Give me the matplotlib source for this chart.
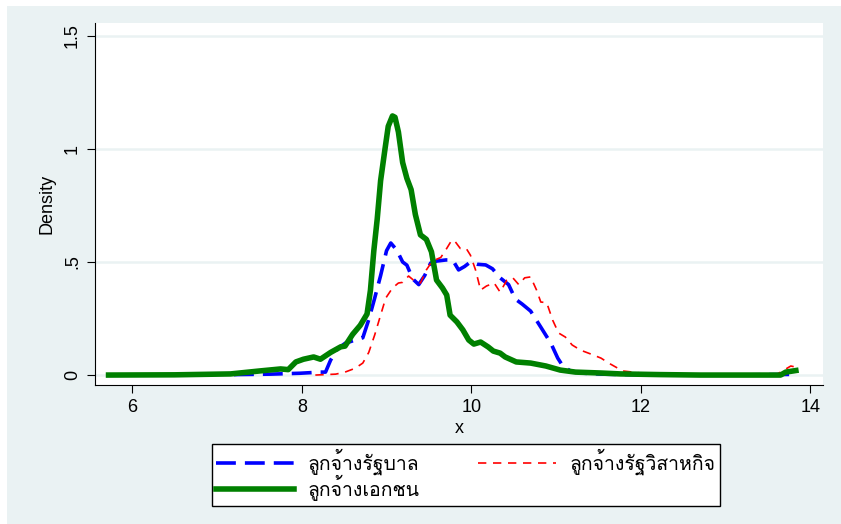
import matplotlib
matplotlib.use("Agg")
import matplotlib.pyplot as plt
from matplotlib import font_manager
from matplotlib.ft2font import FT2Font
from matplotlib.patches import Rectangle

# find an installed font with Thai glyphs
thai_font = None
for f in font_manager.fontManager.ttflist:
    try:
        if FT2Font(f.fname).get_char_index(0x0E01):
            thai_font = f.name
            break
    except Exception:
        pass
families = [thai_font, "DejaVu Sans"] if thai_font else ["DejaVu Sans"]
plt.rcParams["font.family"] = ["Liberation Sans", "DejaVu Sans"]

# series labels
labels = ["ลูกจ้างรัฐบาล", "ลูกจ้างรัฐวิสาหกิจ", "ลูกจ้างเอกชน"]

# ลูกจ้างเอกชน (private employees)
x_private = [5.72, 6.5, 7.16, 7.5, 7.75, 7.84, 7.93, 8.02, 8.14, 8.22, 8.34, 8.46, 8.51,
             8.6, 8.69, 8.77, 8.81, 8.85, 8.89, 8.93, 8.98, 9.02, 9.07, 9.1, 9.14,
             9.19, 9.24, 9.29, 9.34, 9.4, 9.47, 9.53, 9.59, 9.66, 9.71, 9.75, 9.83,
             9.9, 9.97, 10.03, 10.11, 10.2, 10.26, 10.34, 10.4, 10.53, 10.7, 10.88,
             11.05, 11.23, 11.53, 11.76, 12.23, 12.7, 13.65, 13.71, 13.83]
y_private = [0.0, 0.001, 0.005, 0.018, 0.027, 0.024, 0.058, 0.07, 0.08, 0.07, 0.10, 0.125, 0.128,
             0.18, 0.22, 0.27, 0.375, 0.55, 0.69, 0.86, 0.995, 1.10, 1.146, 1.14, 1.075,
             0.94, 0.87, 0.82, 0.71, 0.62, 0.60, 0.545, 0.42, 0.385, 0.354, 0.265, 0.235,
             0.2, 0.155, 0.137, 0.146, 0.124, 0.106, 0.097, 0.08, 0.058, 0.053, 0.04,
             0.022, 0.013, 0.009, 0.005, 0.002, 0.0, 0.0, 0.013, 0.02]

# ลูกจ้างรัฐบาล (government employees)
x_gov = [7.2, 7.63, 7.98, 8.22, 8.28, 8.34, 8.42, 8.51, 8.63, 8.72, 8.79, 8.86, 8.93,
         9.0, 9.05, 9.12, 9.19, 9.24, 9.31, 9.38, 9.45, 9.52, 9.59, 9.7, 9.78, 9.85,
         9.92, 9.99, 10.07, 10.17, 10.25, 10.34, 10.44, 10.52, 10.6, 10.7, 10.82,
         10.94, 11.02, 11.08, 11.17, 11.29, 11.53, 12.0, 13.0, 13.8]
y_gov = [0.002, 0.004, 0.008, 0.013, 0.013, 0.066, 0.115, 0.14, 0.155, 0.165, 0.245, 0.34, 0.44,
         0.55, 0.584, 0.553, 0.5, 0.486, 0.425, 0.40, 0.44, 0.495, 0.504, 0.509, 0.509, 0.465,
         0.48, 0.5, 0.49, 0.487, 0.47, 0.43, 0.40, 0.336, 0.314, 0.283, 0.212,
         0.14, 0.075, 0.04, 0.018, 0.009, 0.004, 0.001, 0.0, 0.003]

# ลูกจ้างรัฐวิสาหกิจ (state enterprise employees)
x_se = [8.16, 8.4, 8.51, 8.63, 8.72, 8.79, 8.86, 8.93, 8.99, 9.07, 9.14, 9.19, 9.26, 9.33,
        9.4, 9.47, 9.54, 9.64, 9.71, 9.77, 9.81, 9.87, 9.94, 9.99, 10.05, 10.11, 10.18,
        10.27, 10.34, 10.42, 10.49, 10.56, 10.63, 10.7, 10.77, 10.82, 10.89, 10.96,
        11.03, 11.11, 11.19, 11.29, 11.41, 11.53, 11.64, 11.73, 11.79, 12.0, 12.23,
        12.7, 13.59, 13.69, 13.77, 13.83]
y_se = [0.0, 0.004, 0.013, 0.03, 0.053, 0.10, 0.177, 0.265, 0.34, 0.385, 0.407, 0.41, 0.438, 0.416,
        0.407, 0.465, 0.504, 0.52, 0.56, 0.597, 0.59, 0.56, 0.56, 0.53, 0.465, 0.376, 0.394,
        0.407, 0.367, 0.42, 0.43, 0.40, 0.43, 0.434, 0.376, 0.323, 0.32, 0.243,
        0.186, 0.168, 0.133, 0.11, 0.093, 0.075, 0.049, 0.03, 0.018, 0.009, 0.004,
        0.0, 0.0, 0.022, 0.04, 0.035]

x_ticks = [6, 8, 10, 12, 14]
y_ticks = [0, 0.5, 1, 1.5]
y_ticklabels = ["0", ".5", "1", "1.5"]

bg = "#EAF2F3"
fig = plt.figure(figsize=(8.41, 5.24), dpi=100, facecolor="white")
fig.patches.append(Rectangle((7 / 841, 0), 1, 1 - 6 / 524, transform=fig.transFigure,
                             facecolor=bg, edgecolor="none", zorder=-10))
ax = fig.add_axes([95 / 841, 1 - 385 / 524, (823 - 95) / 841, (385 - 23) / 524])
ax.set_facecolor("white")

l_gov, = ax.plot(x_gov, y_gov, color="#0000FF", lw=2.6, dashes=(5.5, 2.5), label=labels[0])
l_se, = ax.plot(x_se, y_se, color="#FF0000", lw=1.2, dashes=(5, 4), label=labels[1])
l_priv, = ax.plot(x_private, y_private, color="#008000", lw=4.0, solid_joinstyle="round",
                  label=labels[2])

ax.set_xlim(5.56, 14.15)
ax.set_ylim(-0.044, 1.557)
ax.set_xticks(x_ticks)
ax.set_yticks(y_ticks)
ax.set_yticklabels(y_ticklabels, rotation=90, va="center")
ax.tick_params(labelsize=13, length=6, width=0.8, direction="out", pad=4)
for yv in y_ticks:
    ax.axhline(yv, color=bg, lw=1.8, zorder=0)
for s in ["top", "right"]:
    ax.spines[s].set_visible(False)
ax.set_xlabel("x", fontsize=13, labelpad=3)
ax.set_ylabel("Density", fontsize=13, labelpad=6)

leg = fig.legend([l_gov, l_priv, l_se], [labels[0], labels[2], labels[1]], ncol=2,
                 loc="center", bbox_to_anchor=(466 / 841, 1 - 475 / 524),
                 frameon=True, fancybox=False, edgecolor="black", framealpha=1,
                 handlelength=4.0, columnspacing=3.0, handletextpad=0.7,
                 labelspacing=0.0, borderpad=0.25, prop={"family": families, "size": 14})
leg.get_frame().set_linewidth(1.0)

fig.savefig("out.png", dpi=100, facecolor=fig.get_facecolor())
